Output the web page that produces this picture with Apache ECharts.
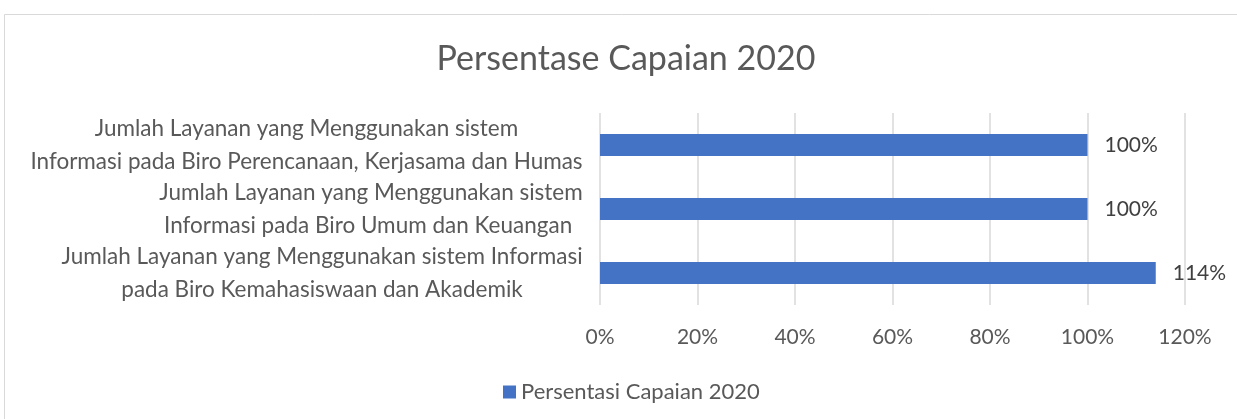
<!DOCTYPE html>
<html>
<head>
<meta charset="utf-8">
<script src="https://cdn.jsdelivr.net/npm/echarts@6/dist/echarts.min.js"></script>
<style>
  html, body { margin: 0; padding: 0; background: #fff; }
  #main { width: 1237px; height: 419px; }
</style>
</head>
<body>
<div id="main"></div>
<script>
var categories = [
	'Jumlah Layanan yang Menggunakan sistem\nInformasi pada Biro Perencanaan, Kerjasama dan Humas',
	'Jumlah Layanan yang Menggunakan sistem\nInformasi pada Biro Umum dan Keuangan ',
	'Jumlah Layanan yang Menggunakan sistem Informasi\npada Biro Kemahasiswaan dan Akademik'
];
var values = [100, 100, 114];
var seriesName = 'Persentasi Capaian 2020';
var axisMin = 0, axisMax = 120, axisStep = 20;

var FONT = 'Lato';
var TXT = '#595959';

var draw = function () {
	// each category label is a block whose lines are centred on each other
	var ctx = document.createElement('canvas').getContext('2d');
	ctx.font = '22.5px ' + FONT;
	var rich = {};
	categories.forEach(function (c, i) {
		var w = 0;
		c.split('\n').forEach(function (l) { w = Math.max(w, ctx.measureText(l).width); });
		rich['c' + i] = { width: Math.ceil(w), align: 'center', fontSize: 22.5, lineHeight: 33, color: TXT, fontFamily: FONT };
	});

	var chart = echarts.init(document.getElementById('main'));

	chart.setOption({
		animation: false,
		graphic: [{
			type: 'rect',
			shape: { x: 4.5, y: 14.5, width: 1260, height: 430 },
			style: { fill: 'none', stroke: '#d9d9d9', lineWidth: 1 }
		}],
		title: {
			text: 'Persentase Capaian 2020',
			left: 621,
			top: 37,
			textAlign: 'center',
			textStyle: { fontFamily: FONT, fontSize: 34, fontWeight: 'normal', color: TXT }
		},
		legend: {
			data: [seriesName],
			left: 498,
			top: 376,
			itemWidth: 13,
			itemHeight: 13,
			icon: 'rect',
			textStyle: { fontFamily: FONT, fontSize: 22, color: TXT }
		},
		grid: {
			left: 600,
			right: 52,
			top: 113,
			height: 192
		},
		xAxis: {
			type: 'value',
			min: axisMin,
			max: axisMax,
			interval: axisStep,
			axisLine: { show: false },
			axisTick: { show: false },
			splitLine: { lineStyle: { color: '#d9d9d9', width: 1.5 } },
			axisLabel: {
				formatter: '{value}%',
				margin: 22,
				fontFamily: FONT,
				fontSize: 21,
				color: TXT
			}
		},
		yAxis: {
			type: 'category',
			inverse: true,
			data: categories,
			axisLine: { show: false },
			axisTick: { show: false },
			axisLabel: {
				margin: 17,
				align: 'right',
				formatter: function (v, i) { return '{c' + i + '|' + v + '}'; },
				rich: rich
			}
		},
		series: [{
			name: seriesName,
			type: 'bar',
			data: values,
			barWidth: 22,
			itemStyle: { color: '#4472C4' },
			label: {
				show: true,
				position: 'right',
				distance: 17,
				formatter: '{c}%',
				fontFamily: FONT,
				fontSize: 21,
				color: '#404040'
			}
		}]
	});
};

if (document.fonts && document.fonts.load) {
	document.fonts.load('22px ' + FONT).then(draw, draw);
} else {
	draw();
}
</script>
</body>
</html>
